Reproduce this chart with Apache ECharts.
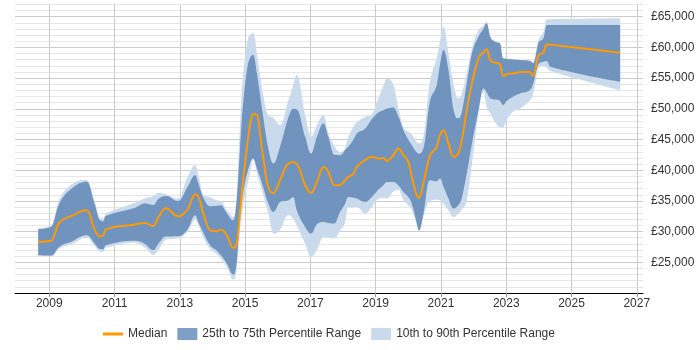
<!DOCTYPE html>
<html><head><meta charset="utf-8">
<script src="https://cdn.jsdelivr.net/npm/echarts@6/dist/echarts.min.js"></script>
<style>html,body{margin:0;padding:0;background:#fff}#c{width:700px;height:350px}</style>
</head><body><div id="c"></div>
<script>
const dates = [
2008.66, 2009.07, 2009.30, 2009.69, 2010.15, 2010.40, 2010.55, 2010.65, 2010.73, 2011.63,
2011.93, 2012.19, 2012.34, 2012.57, 2012.95, 2013.24, 2013.47, 2013.57, 2013.72, 2013.93,
2014.13, 2014.26, 2014.44, 2014.64, 2014.74, 2014.84, 2014.95, 2015.15, 2015.25, 2015.36,
2015.51, 2015.71, 2015.87, 2016.07, 2016.33, 2016.48, 2016.58, 2016.84, 2017.02, 2017.20,
2017.40, 2017.55, 2017.73, 2017.91, 2018.06, 2018.16, 2018.32, 2018.42, 2018.68, 2018.88,
2019.08, 2019.24, 2019.34, 2019.54, 2019.70, 2019.85, 2020.00, 2020.11, 2020.24, 2020.33,
2020.46, 2020.65, 2020.87, 2020.97, 2021.08, 2021.23, 2021.38, 2021.53, 2021.64, 2021.79,
2021.95, 2022.15, 2022.30, 2022.40, 2022.51, 2022.66, 2022.81, 2022.90, 2023.02, 2023.22,
2023.43, 2023.73, 2023.83, 2023.99, 2024.14, 2024.24, 2024.35, 2026.49
];
const median = [
28300, 28550, 31400, 32550, 33470, 30200, 29230, 29300, 30370, 31150,
31400, 30910, 32280, 33800, 32490, 33640, 36080, 35640, 32930, 30210,
30050, 30320, 29390, 27330, 28040, 32930, 38900, 47340, 49140, 48970,
43800, 37270, 36290, 38370, 41090, 41350, 41000, 37550, 36290, 38090,
40530, 39720, 37550, 37550, 38370, 38900, 39450, 40530, 41630, 42170,
41900, 42000, 41520, 42440, 43530, 42440, 41350, 38900, 36190, 35540,
37830, 42170, 43800, 45710, 46520, 44340, 42170, 42720, 44890, 49780,
54140, 58210, 59190, 59680, 57930, 57500, 57280, 55330, 55650, 55770,
55980, 55980, 55330, 58750, 59140, 60490, 60420, 59140
];
const p25 = [
26150, 26100, 27500, 28400, 29400, 28000, 27160, 27100, 27760, 28500,
28000, 27000, 28000, 29200, 29230, 30370, 32650, 31500, 29800, 27760,
26900, 26130, 24800, 23000, 25000, 32380, 36700, 41090, 41900, 40300,
38000, 34560, 33190, 34800, 35100, 35640, 33470, 30750, 29670, 31200,
31570, 31400, 31300, 33190, 34500, 35640, 35500, 35380, 34830, 35640,
36800, 37600, 38090, 38090, 37500, 36460, 35640, 34500, 31800, 30210,
32800, 38370, 38200, 38640, 37300, 35380, 33750, 34300, 35500, 39450,
44340, 49780, 53310, 52700, 51700, 51500, 51300, 50600, 51300, 52000,
52500, 53040, 54140, 57280, 57660, 57800, 56850, 54400
];
const p75 = [
30400, 30850, 34500, 37000, 38100, 34300, 31900, 31700, 32540, 33900,
34560, 34340, 35300, 35800, 34990, 37300, 39180, 37800, 35500, 34120,
34200, 34290, 33000, 31840, 35100, 43260, 51420, 58210, 58750, 55770,
50330, 43530, 41090, 43800, 48700, 50000, 49900, 45430, 42720, 45430,
47610, 45430, 42500, 42440, 43260, 43800, 45000, 45990, 46800, 48300,
49400, 49780, 50000, 50220, 48700, 46500, 45000, 44070, 43000, 42720,
43530, 50870, 53870, 57120, 59560, 56310, 50000, 48430, 49500, 54140,
59030, 61740, 63000, 63920, 61740, 60920, 60660, 58210, 58100, 58040,
57930, 57770, 57400, 60760, 61500, 63650, 63650, 63650
];
const p10 = [
26050, 26000, 27200, 28000, 29000, 27600, 26700, 26700, 27400, 28200,
27400, 26200, 27000, 28700, 28900, 30000, 31900, 31000, 29000, 27200,
26300, 25600, 24200, 22200, 23800, 30000, 34560, 39450, 41700, 39500,
36800, 32930, 29670, 30300, 32700, 32000, 31000, 28040, 25900, 27010,
29120, 29000, 28860, 30210, 31500, 34010, 34010, 34000, 32930, 34010,
35300, 35500, 35400, 36500, 36800, 35200, 34300, 33500, 31500, 30100,
32500, 35000, 35200, 35100, 34500, 33470, 32380, 32900, 33600, 35100,
41090, 49270, 52770, 50300, 49250, 47800, 47000, 46960, 48200, 49600,
50060, 51420, 52500, 56580, 57000, 56700, 56140, 53010
];
const p90 = [
30600, 31000, 35100, 37700, 38400, 34800, 32300, 32100, 32900, 34700,
35400, 35800, 36300, 36100, 35400, 38900, 40810, 39200, 36000, 35600,
35100, 34940, 33500, 32400, 35600, 47000, 56000, 62000, 62300, 59030,
53590, 48970, 48500, 47340, 51420, 54000, 55490, 48970, 45430, 47340,
48970, 46000, 44000, 43000, 43500, 45400, 47070, 47800, 48700, 49100,
51700, 53800, 54900, 54000, 50000, 47000, 46300, 45800, 44700, 44340,
45500, 54000, 58210, 61000, 63370, 59030, 54140, 51690, 52500, 55770,
59850, 62830, 63500, 64190, 61740, 60920, 60660, 58300, 58200, 58100,
58000, 57850, 57600, 61200, 62500, 64580, 64600, 64740
];
const xTicks = [2009, 2011, 2013, 2015, 2017, 2019, 2021, 2023, 2025, 2027];

function money(v) { return '£' + String(v).replace(/\B(?=(\d{3})+(?!\d))/g, ','); }

// spline control points (tension-based, no overshoot)
function controls(pts) {
  const s = 1.5, den = s + 1, n = pts.length;
  const lc = [], rc = [];
  for (let i = 0; i < n; i++) {
    const [x, y] = pts[i];
    if (i === 0 || i === n - 1) { lc.push([x, y]); rc.push([x, y]); continue; }
    const [lx, ly] = pts[i - 1], [nx, ny] = pts[i + 1];
    let lcx = (s * x + lx) / den, lcy = (s * y + ly) / den;
    let rcx = (s * x + nx) / den, rcy = (s * y + ny) / den;
    let corr = 0;
    if (rcx !== lcx) corr = ((rcy - lcy) * (rcx - x)) / (rcx - lcx) + y - rcy;
    lcy += corr; rcy += corr;
    if (lcy > ly && lcy > y) { lcy = Math.max(ly, y); rcy = 2 * y - lcy; }
    else if (lcy < ly && lcy < y) { lcy = Math.min(ly, y); rcy = 2 * y - lcy; }
    if (rcy > ny && rcy > y) { rcy = Math.max(ny, y); lcy = 2 * y - rcy; }
    else if (rcy < ny && rcy < y) { rcy = Math.min(ny, y); lcy = 2 * y - rcy; }
    lc.push([lcx, lcy]); rc.push([rcx, rcy]);
  }
  return {lc, rc};
}
function forwardPath(pts, start) {
  const {lc, rc} = controls(pts);
  let d = (start ? 'M' : 'L') + pts[0][0] + ',' + pts[0][1];
  for (let i = 1; i < pts.length; i++) {
    d += 'C' + rc[i - 1][0] + ',' + rc[i - 1][1] + ',' + lc[i][0] + ',' + lc[i][1] + ',' + pts[i][0] + ',' + pts[i][1];
  }
  return d;
}
function backwardPath(pts) {
  const {lc, rc} = controls(pts);
  const n = pts.length;
  let d = 'L' + pts[n - 1][0] + ',' + pts[n - 1][1];
  for (let i = n - 1; i > 0; i--) {
    d += 'C' + lc[i][0] + ',' + lc[i][1] + ',' + rc[i - 1][0] + ',' + rc[i - 1][1] + ',' + pts[i - 1][0] + ',' + pts[i - 1][1];
  }
  return d + 'Z';
}

const light = '#c9daed', dark = '#7094be', orange = '#ff9900';

function bandSeries(name, lo, hi, color, z) {
  return {
    type: 'custom', name: name, z: z, silent: true, clip: true,
    data: dates.map((d, i) => [d, lo[i], hi[i]]),
    encode: {x: 0, y: [1, 2]},
    itemStyle: {color: color},
    renderItem: function (params, api) {
      if (params.dataIndexInside !== 0) return null;
      const n = params.dataInsideLength, top = [], bot = [];
      for (let i = 0; i < n; i++) {
        const x = api.value(0, i);
        top.push(api.coord([x, api.value(2, i)]));
        bot.push(api.coord([x, api.value(1, i)]));
      }
      return {type: 'path', shape: {pathData: forwardPath(top, true) + backwardPath(bot)},
        style: {fill: color, stroke: null}};
    }
  };
}
const medianSeries = {
  type: 'custom', name: 'Median', z: 5, silent: true, clip: true,
  data: dates.map((d, i) => [d, median[i]]),
  encode: {x: 0, y: 1},
  itemStyle: {color: orange},
  renderItem: function (params, api) {
    if (params.dataIndexInside !== 0) return null;
    const n = params.dataInsideLength, pts = [];
    for (let i = 0; i < n; i++) pts.push(api.coord([api.value(0, i), api.value(1, i)]));
    return {type: 'path', shape: {pathData: forwardPath(pts, true)},
      style: {fill: null, stroke: orange, lineWidth: 2, lineJoin: 'round'}};
  }
};

const chart = echarts.init(document.getElementById('c'), null, {renderer: 'canvas'});
chart.setOption({
  animation: false,
  textStyle: {fontFamily: 'Liberation Sans, Arial, sans-serif'},
  grid: {left: 15, right: 57, top: 4.4, bottom: 57, containLabel: false},
  xAxis: {
    type: 'value',
    min: 2007.95, max: 2027.19,
    axisLine: {show: true, lineStyle: {color: '#000', width: 1}},
    axisTick: {show: true, customValues: xTicks, length: 4, lineStyle: {color: '#999'}},
    axisLabel: {customValues: xTicks, formatter: v => String(Math.round(v)),
      color: '#333', fontSize: 12, margin: 5},
    splitLine: {show: true, lineStyle: {color: '#cccccc', width: 1}}
  },
  yAxis: {
    type: 'value', position: 'right',
    min: 20000, max: 67000, interval: 1000,
    axisLine: {show: false}, axisTick: {show: false},
    axisLabel: {formatter: v => (v % 5000 === 0 && v > 20000) ? money(v) : '', color: '#333', fontSize: 12, margin: 8},
    splitLine: {show: true, lineStyle: {color: ['#cccccc', '#e6e6e6', '#e6e6e6', '#e6e6e6', '#e6e6e6'], width: 1}}
  },
  legend: {
    left: 98, top: 323, itemWidth: 20, itemHeight: 12, itemGap: 10,
    textStyle: {fontSize: 12, color: '#333'},
    itemStyle: {borderWidth: 0},
    data: [
      {name: 'Median', icon: 'path://M0,0L20,0L20,3L0,3Z', itemStyle: {color: orange}},
      {name: '25th to 75th Percentile Range', icon: 'rect', itemStyle: {color: '#7ea0c6'}},
      {name: '10th to 90th Percentile Range', icon: 'rect', itemStyle: {color: light}}
    ]
  },
  series: [
    bandSeries('10th to 90th Percentile Range', p10, p90, light, 2),
    bandSeries('25th to 75th Percentile Range', p25, p75, dark, 3),
    medianSeries
  ]
});
</script></body></html>
